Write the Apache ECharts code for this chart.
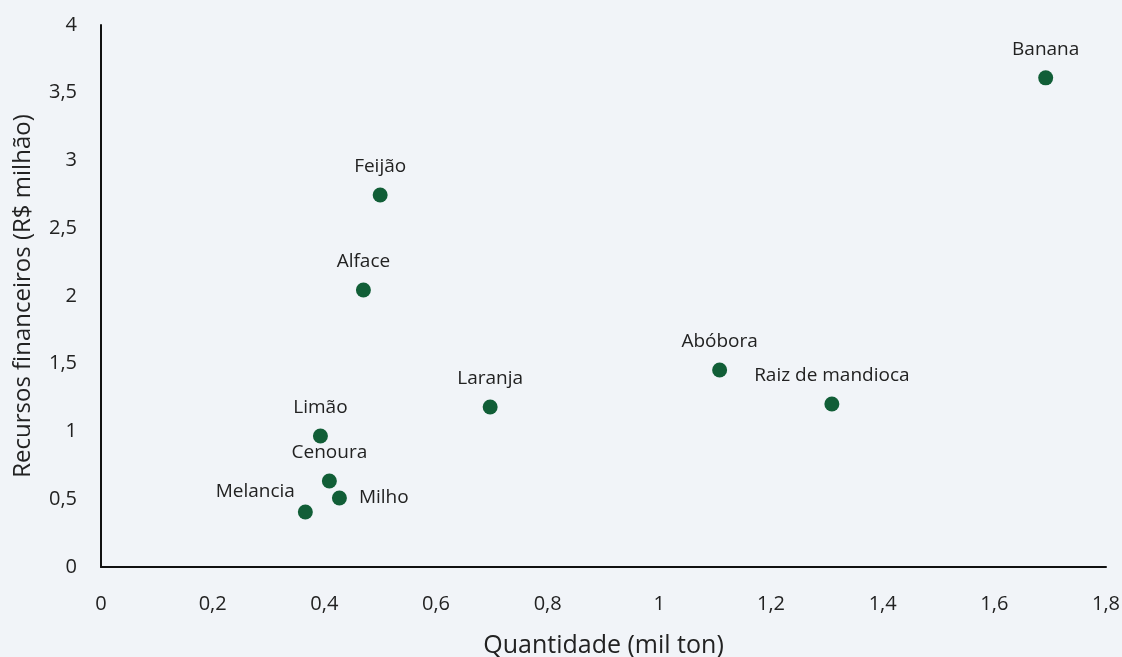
<!DOCTYPE html>
<html>
<head>
<meta charset="utf-8">
<script src="https://cdn.jsdelivr.net/npm/echarts@6/dist/echarts.min.js"></script>
<style>
  html, body { margin: 0; padding: 0; background: #f1f4f8; }
  #scatter { width: 1122px; height: 657px; }
</style>
</head>
<body>
<div id="scatter"></div>
<script>
// produtos e valores
const produtos = ["Banana", "Feijão", "Alface", "Abóbora", "Raiz de mandioca", "Laranja", "Limão", "Cenoura", "Milho", "Melancia"];
const quantidade = [1.692, 0.500, 0.470, 1.108, 1.309, 0.697, 0.393, 0.409, 0.427, 0.366];
const recursos = [3.61, 2.745, 2.044, 1.454, 1.203, 1.181, 0.967, 0.635, 0.509, 0.406];

const fonte = "'Open Sans', 'Noto Sans', sans-serif";
const corTexto = "#222";
const fmt = v => String(Math.round(v * 10) / 10).replace(".", ",");

// posição dos rótulos
const rotulo = {
  "Milho": { position: "right", distance: 12 },
  "Melancia": { position: "left", distance: 3, offset: [0, -20] }
};

const chart = echarts.init(document.getElementById("scatter"));
chart.setOption({
  backgroundColor: "#f1f4f8",
  animation: false,
  grid: { left: 101, right: 16, top: 25, bottom: 90, containLabel: false, outerBoundsMode: "none" },
  xAxis: {
    type: "value",
    min: 0,
    max: 1.8,
    interval: 0.2,
    name: "Quantidade (mil ton)",
    nameLocation: "middle",
    nameGap: 66,
    nameTextStyle: { fontFamily: fonte, fontSize: 25, color: corTexto },
    axisLine: { show: true, lineStyle: { color: "#111", width: 2 } },
    axisTick: { show: false },
    splitLine: { show: false },
    axisLabel: { margin: 27, fontFamily: fonte, fontSize: 20, color: corTexto, formatter: fmt }
  },
  yAxis: {
    type: "value",
    min: 0,
    max: 4,
    interval: 0.5,
    name: "Recursos financeiros (R$ milhão)",
    nameLocation: "middle",
    nameGap: 66,
    nameTextStyle: { fontFamily: fonte, fontSize: 24, color: corTexto },
    axisLine: { show: true, lineStyle: { color: "#111", width: 2 } },
    axisTick: { show: false },
    splitLine: { show: false },
    axisLabel: { margin: 24, fontFamily: fonte, fontSize: 20, color: corTexto, formatter: fmt }
  },
  series: [
    {
      type: "scatter",
      symbolSize: 15,
      itemStyle: { color: "#115e37", opacity: 1 },
      label: {
        show: true,
        position: "top",
        distance: 11,
        fontFamily: fonte,
        fontSize: 19,
        color: corTexto,
        formatter: p => p.data.name
      },
      data: produtos.map((nome, i) => ({
        name: nome,
        value: [quantidade[i], recursos[i]],
        label: rotulo[nome] || {}
      }))
    }
  ]
});
</script>
</body>
</html>
